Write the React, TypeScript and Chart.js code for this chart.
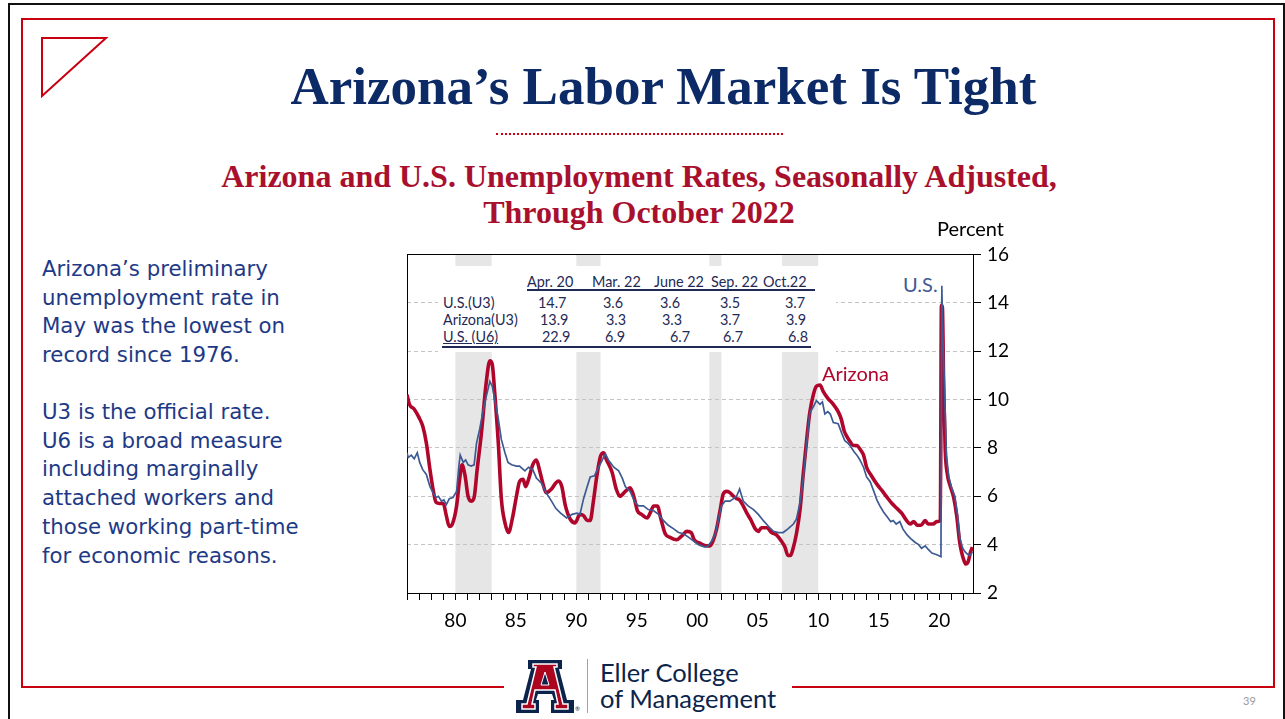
import React, { useEffect, useRef } from "react";
import { Chart, registerables } from "chart.js";

Chart.register(...registerables);

// ---------- DATA ----------
const azYears = [
  1976.0, 1976.2, 1976.6, 1977.0, 1977.3, 1977.6, 1977.9, 1978.15, 1978.4, 1978.7,
  1979.0, 1979.25, 1979.5, 1979.75, 1980.1, 1980.35, 1980.55, 1980.8, 1981.05, 1981.3,
  1981.55, 1981.8, 1982.15, 1982.55, 1982.85, 1983.05, 1983.25, 1983.55, 1983.8, 1984.1,
  1984.4, 1984.7, 1985.05, 1985.3, 1985.6, 1985.8, 1986.05, 1986.4, 1986.7, 1986.95,
  1987.25, 1987.5, 1987.95, 1988.3, 1988.55, 1988.8, 1989.1, 1989.5, 1989.9, 1990.3,
  1990.6, 1990.9, 1991.15, 1991.4, 1991.7, 1992.0, 1992.25, 1992.5, 1992.95, 1993.3,
  1993.6, 1994.05, 1994.45, 1994.75, 1995.05, 1995.4, 1995.85, 1996.1, 1996.4, 1996.7,
  1997.0, 1997.35, 1997.75, 1998.3, 1998.7, 1999.15, 1999.5, 1999.75, 2000.25, 2000.8,
  2001.05, 2001.3, 2001.6, 2001.9, 2002.15, 2002.45, 2002.7, 2003.0, 2003.25, 2003.5,
  2003.8, 2004.1, 2004.4, 2004.8, 2005.05, 2005.3, 2005.75, 2006.15, 2006.55, 2006.95,
  2007.25, 2007.5, 2007.7, 2007.9, 2008.2, 2008.5, 2008.75, 2009.05, 2009.3, 2009.6,
  2009.85, 2010.15, 2010.4, 2010.8, 2011.25, 2011.65, 2011.9, 2012.15, 2012.4, 2012.65,
  2012.9, 2013.2, 2013.45, 2013.75, 2014.0, 2014.4, 2014.85, 2015.25, 2015.7, 2016.1,
  2016.5, 2016.9, 2017.3, 2017.6, 2017.9, 2018.2, 2018.5, 2018.85, 2019.1, 2019.5,
  2019.8, 2020.1, 2020.19, 2020.27, 2020.38, 2020.5, 2020.7, 2020.9, 2021.2, 2021.45,
  2021.7, 2021.85, 2022.05, 2022.2, 2022.4, 2022.6, 2022.75,
];
const azRates = [
  10.2, 9.8, 9.6, 9.25, 8.9, 8.2, 7.1, 6.3, 5.75, 5.7,
  5.7, 5.2, 4.75, 4.85, 5.6, 6.7, 7.3, 6.85, 6.0, 5.8,
  5.95, 7.1, 8.6, 10.7, 11.6, 11.45, 10.3, 8.2, 5.9, 4.9,
  4.5, 5.05, 6.0, 6.6, 6.7, 6.4, 6.7, 7.3, 7.5, 7.1,
  6.5, 6.15, 6.3, 6.55, 6.63, 6.4, 5.6, 5.05, 4.9, 5.25,
  5.2, 5.0, 5.0, 5.75, 6.85, 7.65, 7.8, 7.5, 7.0, 6.3,
  6.0, 6.2, 6.35, 6.0, 5.4, 5.25, 5.1, 5.3, 5.6, 5.6,
  5.05, 4.45, 4.3, 4.2, 4.35, 4.55, 4.5, 4.2, 4.05, 3.95,
  3.95, 4.15, 4.65, 5.45, 6.1, 6.2, 6.15, 6.0, 5.9, 5.85,
  5.6, 5.3, 5.05, 4.65, 4.55, 4.7, 4.7, 4.5, 4.4, 4.15,
  3.9, 3.55, 3.55, 3.8, 4.45, 5.45, 6.85, 8.35, 9.45, 10.2,
  10.55, 10.6, 10.35, 10.05, 9.8, 9.5, 9.2, 8.7, 8.45, 8.25,
  8.1, 8.1, 7.95, 7.7, 7.2, 6.85, 6.5, 6.25, 5.95, 5.7,
  5.5, 5.3, 5.0, 4.85, 4.95, 4.8, 4.8, 5.0, 4.85, 4.85,
  4.95, 5.0, 13.9, 13.8, 10.4, 7.95, 6.85, 6.45, 5.95, 5.2,
  4.1, 3.7, 3.35, 3.2, 3.3, 3.7, 3.9,
];

const usYears = [
  1976.0, 1976.1, 1976.35, 1976.6, 1976.85, 1977.05, 1977.3, 1977.6, 1977.9, 1978.15,
  1978.4, 1978.6, 1978.85, 1979.05, 1979.25, 1979.5, 1979.8, 1980.1, 1980.3, 1980.4,
  1980.65, 1980.85, 1981.05, 1981.3, 1981.55, 1981.75, 1982.0, 1982.4, 1982.85, 1983.05,
  1983.25, 1983.55, 1983.8, 1984.1, 1984.35, 1984.65, 1985.05, 1985.3, 1985.75, 1986.05,
  1986.4, 1986.7, 1987.1, 1987.5, 1987.95, 1988.3, 1988.7, 1989.2, 1989.65, 1990.05,
  1990.3, 1990.6, 1990.9, 1991.15, 1991.5, 1991.85, 1992.1, 1992.4, 1992.65, 1993.1,
  1993.5, 1993.8, 1994.05, 1994.45, 1994.85, 1995.15, 1995.55, 1995.95, 1996.4, 1996.8,
  1997.2, 1997.6, 1998.05, 1998.45, 1998.85, 1999.3, 1999.7, 2000.1, 2000.35, 2000.65,
  2000.9, 2001.2, 2001.5, 2001.75, 2002.0, 2002.3, 2002.7, 2003.0, 2003.25, 2003.5,
  2003.8, 2004.2, 2004.65, 2005.05, 2005.45, 2005.9, 2006.3, 2006.7, 2007.1, 2007.5,
  2007.95, 2008.2, 2008.5, 2008.75, 2009.05, 2009.3, 2009.6, 2009.85, 2010.15, 2010.35,
  2010.55, 2010.8, 2011.0, 2011.25, 2011.65, 2011.95, 2012.2, 2012.45, 2012.7, 2012.95,
  2013.2, 2013.45, 2013.75, 2014.0, 2014.3, 2014.6, 2014.85, 2015.1, 2015.4, 2015.7,
  2016.0, 2016.2, 2016.45, 2016.75, 2017.0, 2017.35, 2017.65, 2018.0, 2018.3, 2018.55,
  2018.85, 2019.1, 2019.4, 2019.7, 2019.95, 2020.15, 2020.22, 2020.3, 2020.45, 2020.6,
  2020.8, 2021.05, 2021.3, 2021.5, 2021.7, 2021.95, 2022.15, 2022.35, 2022.55, 2022.75,
];
const usRates = [
  7.8, 7.6, 7.7, 7.55, 7.8, 7.4, 7.1, 6.9, 6.4, 6.15,
  5.95, 6.0, 5.8, 5.85, 5.65, 5.9, 5.95, 6.2, 7.3, 7.7,
  7.4, 7.5, 7.3, 7.25, 7.3, 8.2, 8.75, 9.8, 10.75, 10.55,
  10.0, 9.2, 8.35, 7.8, 7.4, 7.3, 7.25, 7.25, 7.05, 7.2,
  7.1, 6.75, 6.55, 6.15, 5.8, 5.5, 5.3, 5.1, 5.25, 5.3,
  5.25, 5.9, 6.4, 6.8, 6.85, 7.2, 7.45, 7.75, 7.5, 7.2,
  7.05, 6.75, 6.4, 6.2, 5.75, 5.6, 5.6, 5.45, 5.4, 5.25,
  5.0, 4.8, 4.65, 4.5, 4.45, 4.3, 4.15, 4.0, 3.95, 3.9,
  3.95, 4.15, 4.45, 5.05, 5.6, 5.8, 5.8, 5.9, 6.0, 6.3,
  5.8, 5.6, 5.45, 5.25, 5.0, 4.75, 4.55, 4.5, 4.5, 4.65,
  4.85, 5.05, 5.75, 6.7, 8.2, 9.45, 9.7, 9.95, 9.8, 9.9,
  9.4, 9.5, 9.4, 9.05, 9.0, 8.6, 8.3, 8.2, 8.05, 7.85,
  7.7, 7.5, 7.2, 6.8, 6.6, 6.2, 5.85, 5.6, 5.35, 5.15,
  4.95, 5.0, 4.85, 4.95, 4.65, 4.4, 4.25, 4.1, 4.0, 3.85,
  3.95, 3.8, 3.65, 3.6, 3.55, 3.5, 14.7, 12.8, 10.4, 7.7,
  6.8, 6.3, 6.0, 5.3, 4.3, 3.85, 3.7, 3.6, 3.55, 3.7,
];

const recessionStart = [1980, 1990, 2001, 2007];
const recessionEnd = [1983, 1992, 2002, 2010];

const tableHeaders = ["Apr. 20", "Mar. 22", "June 22", "Sep. 22", "Oct.22"];
const rowLabels = ["U.S.(U3)", "Arizona(U3)", "U.S. (U6)"];
const usU3 = ["14.7", "3.6", "3.6", "3.5", "3.7"];
const azU3 = ["13.9", "3.3", "3.3", "3.7", "3.9"];
const usU6 = ["22.9", "6.9", "6.7", "6.7", "6.8"];

const para1 = ["Arizona\u2019s preliminary", "unemployment rate in", "May was the lowest on", "record since 1976."];
const para2 = [
  "U3 is the official rate.",
  "U6 is a broad measure",
  "including marginally",
  "attached workers and",
  "those working part-time",
  "for economic reasons.",
];

// ---------- LAYOUT CONSTANTS ----------
const headerLeft = [527, 592, 654, 711, 763];
const rowValueLeft = [
  [538, 603, 660, 720, 785],
  [540, 606, 662, 720, 786],
  [542, 605, 670, 723, 788],
];
const rowCenterY = [303, 320, 337];

const NAVY = "#0c2a66";
const CRIMSON = "#a8102e";
const FRAME_RED = "#c8000f";
const AZ_RED = "#b0062c";
const US_BLUE = "#3d5a92";
const TABLE_INK = "#1f2a55";
const LEFT_INK = "#1e3a86";

const shadePlugin = {
  id: "recessionShade",
  beforeDraw(chart: any) {
    const { ctx, chartArea, scales } = chart;
    const xs = scales.x;
    ctx.save();
    ctx.fillStyle = "#e6e6e6";
    for (let i = 0; i < recessionStart.length; i++) {
      const x1 = xs.getPixelForValue(recessionStart[i]);
      const x2 = xs.getPixelForValue(recessionEnd[i]);
      ctx.fillRect(x1, chartArea.top, x2 - x1, chartArea.bottom - chartArea.top);
    }
    ctx.restore();
  },
};

const framePlugin = {
  id: "plotFrame",
  beforeDatasetsDraw(chart: any) {
    const { ctx, chartArea } = chart;
    ctx.save();
    ctx.strokeStyle = "#000";
    ctx.lineWidth = 1;
    ctx.strokeRect(
      Math.round(chartArea.left) + 0.5,
      Math.round(chartArea.top) + 0.5,
      Math.round(chartArea.right - chartArea.left),
      Math.round(chartArea.bottom - chartArea.top)
    );
    ctx.restore();
  },
};

function UnemploymentChart() {
  const ref = useRef<HTMLCanvasElement | null>(null);
  useEffect(() => {
    if (!ref.current) return;
    const chart = new Chart(ref.current, {
      type: "line",
      data: {
        datasets: [
          {
            label: "U.S.",
            data: usYears.map((x, i) => ({ x, y: usRates[i] })),
            borderColor: US_BLUE,
            borderWidth: 1.7,
            pointRadius: 0,
            tension: 0,
          },
          {
            label: "Arizona",
            data: azYears.map((x, i) => ({ x, y: azRates[i] })),
            borderColor: AZ_RED,
            borderWidth: 3.6,
            pointRadius: 0,
            cubicInterpolationMode: "monotone",
          },
        ],
      },
      options: {
        animation: false,
        responsive: false,
        layout: { padding: { left: 6, top: 11, right: 15, bottom: 4 } },
        plugins: { legend: { display: false }, tooltip: { enabled: false } },
        scales: {
          x: {
            type: "linear",
            min: 1976,
            max: 2022.8,
            afterFit: (s: any) => {
              s.height = 40;
            },
            grid: { drawOnChartArea: false, tickLength: 7, tickColor: "#000", lineWidth: 1 },
            border: { color: "#000", width: 1 },
            ticks: {
              stepSize: 1,
              autoSkip: false,
              includeBounds: false,
              maxRotation: 0,
              minRotation: 0,
              padding: 9,
              color: "#000",
              font: { family: "Lato", size: 19 },
              callback: (v: any) => {
                const n = Number(v);
                if (Math.abs(n - Math.round(n)) > 1e-6) return "";
                const r = Math.round(n);
                return r % 5 === 0 ? String(r % 100).padStart(2, "0") : "";
              },
            },
          },
          y: {
            position: "right",
            min: 2,
            max: 16,
            afterFit: (s: any) => {
              s.width = 50;
            },
            grid: {
              color: (c: any) =>
                c.tick && (c.tick.value === 2 || c.tick.value === 16) ? "rgba(0,0,0,0)" : "#c4c4c4",
              tickColor: "#000",
              tickLength: 8,
              tickBorderDash: [],
              lineWidth: 1,
            },
            border: { color: "#000", width: 1, dash: [4, 3] },
            ticks: {
              stepSize: 2,
              padding: 6,
              color: "#000",
              font: { family: "Lato", size: 19 },
            },
          },
        },
      },
      plugins: [shadePlugin, framePlugin],
    } as any);
    return () => chart.destroy();
  }, []);
  return (
    <canvas
      ref={ref}
      width={640}
      height={400}
      style={{ position: "absolute", left: 398, top: 237, width: 640, height: 400 }}
    />
  );
}

const abs = (o: React.CSSProperties): React.CSSProperties => ({ position: "absolute", ...o });

export default function App() {
  const tableText = (text: string, left: number, cy: number, extra: React.CSSProperties = {}) => (
    <div
      key={text + left + cy}
      style={abs({
        left,
        top: cy - 9,
        height: 18,
        lineHeight: "18px",
        fontFamily: "Lato",
        fontSize: 14.4,
        color: TABLE_INK,
        whiteSpace: "nowrap",
        ...extra,
      })}
    >
      {text}
    </div>
  );
  const rows = [usU3, azU3, usU6];
  return (
    <div
      style={abs({
        left: 0,
        top: 0,
        width: 1285,
        height: 719,
        background: "#fff",
        overflow: "hidden",
      })}
    >
      {/* outer black frame */}
      <div style={abs({ left: 8, top: 3, width: 1273, height: 730, border: "2px solid #111" })} />
      {/* red frame */}
      <div style={abs({ left: 21, top: 18, width: 1250, height: 666, border: `2px solid ${FRAME_RED}` })} />
      {/* gap in bottom red line for logo */}
      <div style={abs({ left: 504, top: 680, width: 288, height: 10, background: "#fff" })} />

      {/* triangle */}
      <svg style={abs({ left: 0, top: 0 })} width={130} height={110}>
        <polygon points="42,38 106,38 42,96" fill="none" stroke={FRAME_RED} strokeWidth={2} />
      </svg>

      {/* title */}
      <div
        style={abs({
          left: 0,
          width: 1327,
          top: 60,
          textAlign: "center",
          fontFamily: "'Liberation Serif', 'Times New Roman', serif",
          fontWeight: 700,
          fontSize: 53,
          lineHeight: "53px",
          color: NAVY,
          whiteSpace: "nowrap",
        })}
      >
        Arizona{"\u2019"}s Labor Market Is Tight
      </div>

      {/* dotted separator */}
      <div style={abs({ left: 496, top: 133, width: 287, height: 0, borderTop: `2px dotted ${FRAME_RED}` })} />

      {/* subtitle */}
      <div
        style={abs({
          left: 0,
          width: 1278,
          top: 158,
          textAlign: "center",
          fontFamily: "'Liberation Serif', 'Times New Roman', serif",
          fontWeight: 700,
          fontSize: 32,
          lineHeight: "36px",
          color: CRIMSON,
          whiteSpace: "nowrap",
        })}
      >
        Arizona and U.S. Unemployment Rates, Seasonally Adjusted,
        <br />
        Through October 2022
      </div>

      {/* left commentary */}
      {[para1, para2].map((p, pi) => (
        <div
          key={pi}
          style={abs({
            left: 42,
            top: pi === 0 ? 255 : 398,
            fontFamily: "'DejaVu Sans', sans-serif",
            fontSize: 21.3,
            lineHeight: "28.7px",
            color: LEFT_INK,
            whiteSpace: "nowrap",
          })}
        >
          {p.map((l, i) => (
            <div key={i}>{l}</div>
          ))}
        </div>
      ))}

      {/* chart */}
      <UnemploymentChart />

      {/* Percent label */}
      <div
        style={abs({
          left: 937,
          top: 216,
          height: 24,
          lineHeight: "24px",
          fontFamily: "Lato",
          fontSize: 20,
          color: "#000",
          whiteSpace: "nowrap",
        })}
      >
        Percent
      </div>

      {/* series labels */}
      <div
        style={abs({
          left: 900,
          top: 272,
          height: 24,
          lineHeight: "24px",
          padding: "0 3px",
          background: "#fff",
          fontFamily: "Lato",
          fontSize: 20,
          color: US_BLUE,
          whiteSpace: "nowrap",
        })}
      >
        U.S.
      </div>
      <div
        style={abs({
          left: 822,
          top: 361,
          height: 24,
          lineHeight: "24px",
          fontFamily: "Lato",
          fontSize: 20,
          color: AZ_RED,
          whiteSpace: "nowrap",
        })}
      >
        Arizona
      </div>

      {/* data table */}
      <div style={abs({ left: 438, top: 266, width: 398, height: 86, background: "#fff" })} />
      {tableHeaders.map((h, i) => tableText(h, headerLeft[i], 282))}
      <div style={abs({ left: 527, top: 289, width: 288, height: 2, background: TABLE_INK })} />
      {rowLabels.map((l, r) =>
        tableText(l, 443, rowCenterY[r], r === 2 ? { textDecoration: "underline" } : {})
      )}
      {rows.map((vals, r) => vals.map((v, c) => tableText(v, rowValueLeft[r][c], rowCenterY[r])))}
      <div style={abs({ left: 442, top: 346, width: 369, height: 2, background: TABLE_INK })} />

      {/* logo */}
      <svg style={abs({ left: 514, top: 659 })} width={64} height={58} viewBox="0 0 64 58">
        <polygon
          points="14,1 48,1 48,10 45,10 53,41 60,41 60,54 37,54 37,41 40,41 38,35 24,35 22,41 25,41 25,54 2,54 2,41 9,41 17,10 14,10"
          fill="#0c234b"
        />
        <polygon
          points="19,5 43,5 43,8 40,8 49,45 54,45 54,50 41,50 41,45 44,45 41,31 21,31 18,45 21,45 21,50 8,50 8,45 13,45 22,8 19,8"
          fill="#ab0520"
          stroke="#fff"
          strokeWidth={1.5}
        />
        <polygon points="31,13 35,26 27,26" fill="#0c234b" stroke="#fff" strokeWidth={1} />
      </svg>
      <div style={abs({ left: 575, top: 705, fontSize: 6, fontFamily: "Lato", color: "#0c234b" })}>®</div>
      <div style={abs({ left: 587, top: 659, width: 1, height: 54, background: "#9aa3b5" })} />
      <div
        style={abs({
          left: 600,
          top: 659,
          fontFamily: "Lato",
          fontSize: 25.5,
          lineHeight: "26px",
          color: "#0c234b",
          whiteSpace: "nowrap",
        })}
      >
        Eller College
        <br />
        of Management
      </div>

      {/* page number */}
      <div
        style={abs({
          left: 1243,
          top: 694,
          fontFamily: "Lato",
          fontSize: 11,
          color: "#9a9a9a",
        })}
      >
        39
      </div>
    </div>
  );
}
